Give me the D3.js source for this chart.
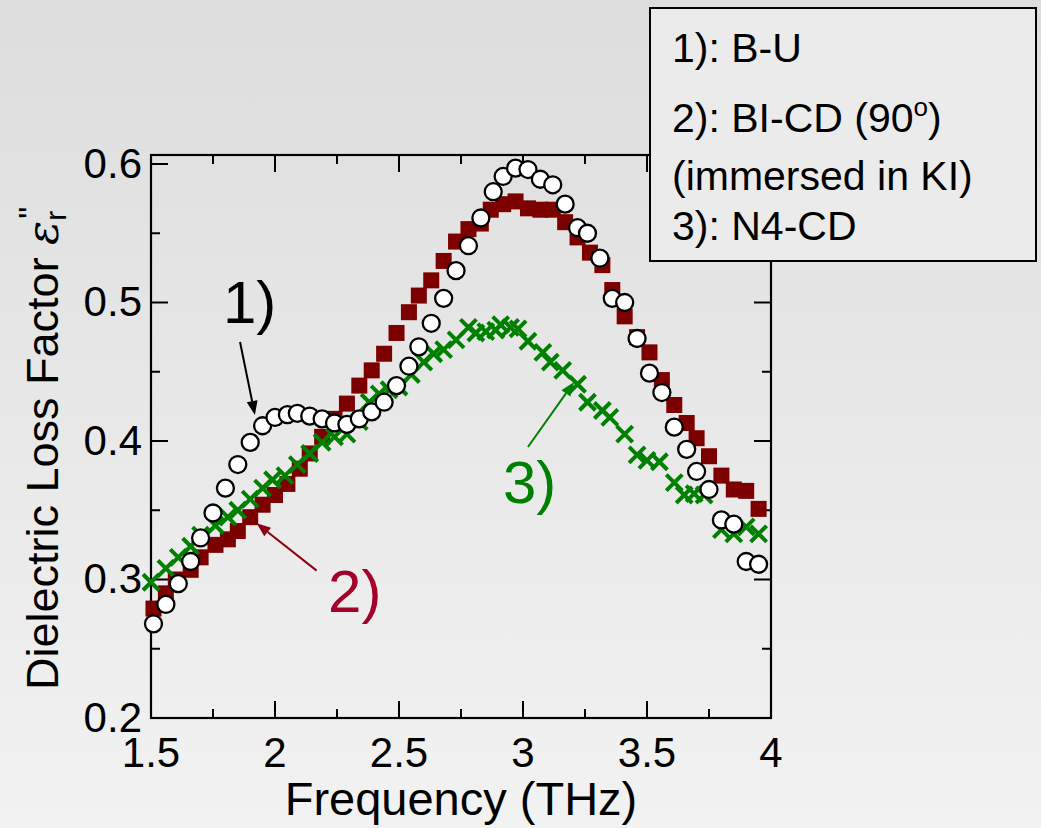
<!DOCTYPE html>
<html>
<head>
<meta charset="utf-8">
<script src="https://cdn.jsdelivr.net/npm/d3@7"></script>
<style>
  html, body { margin: 0; padding: 0; background: #e8e8e8; }
  svg { display: block; font-family: "Liberation Sans", Arial, sans-serif; }
</style>
</head>
<body>
<svg id="chart" width="1041" height="828"></svg>
<script>
// Sample 1) B-U (open circles)
const freqBU = [1.51,1.56,1.61,1.66,1.70,1.75,1.80,1.85,1.90,1.95,2.00,2.05,2.09,2.14,2.19,2.24,2.29,2.34,2.39,2.44,2.49,2.54,2.58,2.63,2.68,2.73,2.78,2.83,2.88,2.92,2.97,3.02,3.07,3.12,3.17,3.22,3.26,3.31,3.36,3.41,3.46,3.51,3.56,3.61,3.66,3.70,3.75,3.80,3.85,3.90,3.95];
const lossBU = [0.268,0.282,0.297,0.313,0.330,0.348,0.366,0.383,0.399,0.411,0.417,0.419,0.420,0.418,0.416,0.413,0.412,0.416,0.421,0.428,0.440,0.454,0.468,0.485,0.503,0.523,0.541,0.561,0.580,0.591,0.597,0.596,0.589,0.585,0.571,0.554,0.550,0.532,0.503,0.500,0.474,0.449,0.435,0.410,0.394,0.378,0.365,0.343,0.340,0.313,0.311];

// Sample 2) BI-CD (90°) immersed in KI (filled squares)
const freqBI = [1.51,1.56,1.60,1.66,1.70,1.76,1.81,1.85,1.90,1.95,2.00,2.05,2.10,2.14,2.19,2.24,2.29,2.34,2.39,2.44,2.49,2.54,2.58,2.63,2.68,2.73,2.78,2.83,2.87,2.92,2.97,3.02,3.07,3.12,3.17,3.22,3.27,3.32,3.36,3.41,3.46,3.51,3.56,3.61,3.66,3.70,3.75,3.80,3.85,3.90,3.95];
const lossBI = [0.279,0.290,0.300,0.307,0.316,0.325,0.329,0.335,0.345,0.354,0.361,0.369,0.380,0.391,0.403,0.416,0.427,0.440,0.451,0.463,0.478,0.493,0.505,0.516,0.530,0.544,0.553,0.557,0.567,0.571,0.573,0.568,0.567,0.567,0.558,0.547,0.536,0.527,0.509,0.490,0.475,0.464,0.444,0.426,0.413,0.402,0.389,0.375,0.365,0.364,0.351];

// Sample 3) N4-CD (crosses)
const freqN4 = [1.50,1.56,1.61,1.66,1.70,1.76,1.81,1.85,1.90,1.95,1.99,2.04,2.09,2.14,2.19,2.24,2.29,2.34,2.38,2.42,2.46,2.50,2.55,2.60,2.64,2.68,2.73,2.78,2.81,2.85,2.89,2.91,2.95,2.98,3.02,3.08,3.11,3.16,3.22,3.26,3.32,3.35,3.41,3.46,3.50,3.55,3.61,3.65,3.69,3.73,3.80,3.85,3.90,3.95];
const lossN4 = [0.298,0.308,0.316,0.324,0.332,0.339,0.345,0.350,0.358,0.366,0.372,0.375,0.383,0.391,0.399,0.403,0.405,0.414,0.428,0.434,0.437,0.439,0.448,0.457,0.463,0.466,0.473,0.482,0.478,0.479,0.480,0.484,0.482,0.481,0.472,0.464,0.457,0.451,0.441,0.428,0.422,0.417,0.405,0.390,0.386,0.385,0.370,0.361,0.362,0.361,0.336,0.333,0.338,0.333];

// Axis ticks
const xTicks = [1.5, 2, 2.5, 3, 3.5, 4];
const xTickLabels = ["1.5", "2", "2.5", "3", "3.5", "4"];
const yTicks = [0.2, 0.3, 0.4, 0.5, 0.6];
const yTickLabels = ["0.2", "0.3", "0.4", "0.5", "0.6"];
const xMinor = [1.75, 2.25, 2.75, 3.25, 3.75];
const yMinor = [0.25, 0.35, 0.45, 0.55];

// Legend lines
const legendLines = ["1): B-U", "2): BI-CD (90", "(immersed in KI)", "3): N4-CD"];

const svg = d3.select("#chart");
const W = 1041, H = 828;

// Background with soft vertical shading
const defs = svg.append("defs");
const grad = defs.append("linearGradient").attr("id", "bg").attr("x1", 0).attr("y1", 0).attr("x2", 0).attr("y2", 1);
grad.append("stop").attr("offset", "0%").attr("stop-color", "#dddddd");
grad.append("stop").attr("offset", "55%").attr("stop-color", "#e9e9e9");
grad.append("stop").attr("offset", "100%").attr("stop-color", "#f2f2f2");
svg.append("rect").attr("width", W).attr("height", H).attr("fill", "url(#bg)");

const plot = { left: 151, right: 771, top: 155, bottom: 718 };
const x = d3.scaleLinear().domain([1.5, 4.0]).range([plot.left, plot.right]);
const y = d3.scaleLinear().domain([0.2, 0.6065]).range([plot.bottom, plot.top]);

// Frame ticks (inward on all four sides)
const gT = svg.append("g").attr("stroke", "#000").attr("stroke-width", 2);
const major = 17, minor = 9;
xTicks.forEach(t => {
  gT.append("line").attr("x1", x(t)).attr("x2", x(t)).attr("y1", plot.top).attr("y2", plot.top + major);
  gT.append("line").attr("x1", x(t)).attr("x2", x(t)).attr("y1", plot.bottom).attr("y2", plot.bottom - major);
});
xMinor.forEach(t => {
  gT.append("line").attr("x1", x(t)).attr("x2", x(t)).attr("y1", plot.top).attr("y2", plot.top + minor);
  gT.append("line").attr("x1", x(t)).attr("x2", x(t)).attr("y1", plot.bottom).attr("y2", plot.bottom - minor);
});
yTicks.forEach(t => {
  gT.append("line").attr("y1", y(t)).attr("y2", y(t)).attr("x1", plot.left).attr("x2", plot.left + major);
  gT.append("line").attr("y1", y(t)).attr("y2", y(t)).attr("x1", plot.right).attr("x2", plot.right - major);
});
yMinor.forEach(t => {
  gT.append("line").attr("y1", y(t)).attr("y2", y(t)).attr("x1", plot.left).attr("x2", plot.left + minor);
  gT.append("line").attr("y1", y(t)).attr("y2", y(t)).attr("x1", plot.right).attr("x2", plot.right - minor);
});
svg.append("rect")
  .attr("x", plot.left).attr("y", plot.top)
  .attr("width", plot.right - plot.left).attr("height", plot.bottom - plot.top)
  .attr("fill", "none").attr("stroke", "#000").attr("stroke-width", 2.2);

// Tick labels
svg.append("g").selectAll("text").data(yTicks).join("text")
  .attr("x", plot.left - 9).attr("y", d => y(d)).attr("dy", "0.33em")
  .attr("text-anchor", "end").attr("font-size", 42).attr("fill", "#000")
  .text((d, i) => yTickLabels[i]);
svg.append("g").selectAll("text").data(xTicks).join("text")
  .attr("x", d => x(d)).attr("y", 767)
  .attr("text-anchor", "middle").attr("font-size", 42).attr("fill", "#000")
  .text((d, i) => xTickLabels[i]);

// Axis titles
svg.append("text").attr("x", 461).attr("y", 815).attr("text-anchor", "middle")
  .attr("font-size", 47).attr("fill", "#000").text("Frequency (THz)");
const yTitle = svg.append("text").attr("transform", "translate(58,690) rotate(-90)")
  .attr("font-size", 45).attr("fill", "#000");
yTitle.append("tspan").text("Dielectric Loss Factor ");
yTitle.append("tspan").attr("font-family", "'DejaVu Serif', serif").attr("font-style", "italic").text("\u03b5");
yTitle.append("tspan").attr("font-size", 30).attr("dy", 8).text("r");
yTitle.append("tspan").attr("font-size", 34).attr("dy", -24).attr("dx", -8).text("\"");

// Series 2: squares
const sq = 16;
svg.append("g").selectAll("rect").data(freqBI).join("rect")
  .attr("x", d => x(d) - sq / 2).attr("y", (d, i) => y(lossBI[i]) - sq / 2)
  .attr("width", sq).attr("height", sq).attr("fill", "#7d0000");

// Series 3: crosses
const cr = 8;
svg.append("g").attr("stroke", "#008000").attr("stroke-width", 4).selectAll("path").data(freqN4).join("path")
  .attr("d", (d, i) => {
    const cx = x(d), cy = y(lossN4[i]);
    return `M${cx - cr},${cy - cr}L${cx + cr},${cy + cr}M${cx - cr},${cy + cr}L${cx + cr},${cy - cr}`;
  });

// Series 1: open circles
svg.append("g").selectAll("circle").data(freqBU).join("circle")
  .attr("cx", d => x(d)).attr("cy", (d, i) => y(lossBU[i])).attr("r", 8.5)
  .attr("fill", "#fff").attr("stroke", "#000").attr("stroke-width", 2.3);

// Annotation arrows (data coordinates)
const arrows = [
  { from: [1.859, 0.4715], to: [1.919, 0.4188], color: "#000" },
  { from: [2.168, 0.3064], to: [1.926, 0.3406], color: "#8a0010" },
  { from: [3.020, 0.3957], to: [3.206, 0.4426], color: "#008000" }
];
arrows.forEach(a => {
  const x1 = x(a.from[0]), y1 = y(a.from[1]), x2 = x(a.to[0]), y2 = y(a.to[1]);
  const ang = Math.atan2(y2 - y1, x2 - x1);
  const hl = 14, hw = 5.5;
  const bx = x2 - hl * Math.cos(ang), by = y2 - hl * Math.sin(ang);
  svg.append("line").attr("x1", x1).attr("y1", y1).attr("x2", bx).attr("y2", by)
    .attr("stroke", a.color).attr("stroke-width", 2);
  svg.append("path")
    .attr("d", `M${x2},${y2}L${bx + hw * Math.sin(ang)},${by - hw * Math.cos(ang)}L${bx - hw * Math.sin(ang)},${by + hw * Math.cos(ang)}Z`)
    .attr("fill", a.color);
});

// Annotation labels
const notes = [
  { at: [1.790, 0.4852], text: "1)", color: "#000" },
  { at: [2.214, 0.2765], text: "2)", color: "#a3002a" },
  { at: [2.919, 0.3552], text: "3)", color: "#008000" }
];
svg.append("g").selectAll("text").data(notes).join("text")
  .attr("x", d => x(d.at[0])).attr("y", d => y(d.at[1]))
  .attr("font-size", 60).attr("fill", d => d.color).text(d => d.text);

// Legend box
const lg = svg.append("g");
lg.append("rect").attr("x", 650).attr("y", 8).attr("width", 386).attr("height", 253)
  .attr("fill", "#ebebeb").attr("stroke", "#000").attr("stroke-width", 2);
const baselines = [62, 132, 190, 240];
legendLines.forEach((t, i) => {
  const tx = lg.append("text").attr("x", 672).attr("y", baselines[i]).attr("font-size", 41).attr("fill", "#000");
  tx.append("tspan").text(t);
  if (i === 1) {
    tx.append("tspan").attr("font-size", 26).attr("dy", -16).text("o");
    tx.append("tspan").attr("dy", 16).text(")");
  }
});
</script>
</body>
</html>
